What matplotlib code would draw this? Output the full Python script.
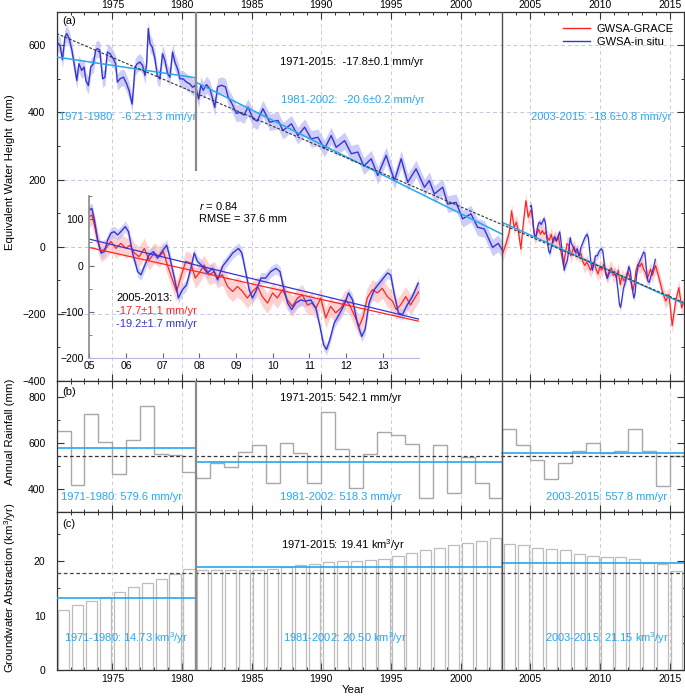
import numpy as np
import matplotlib.pyplot as plt
from matplotlib.ticker import MultipleLocator
from matplotlib.lines import Line2D

plt.rcParams['font.family'] = ['Liberation Sans', 'DejaVu Sans']
plt.rcParams['mathtext.fontset'] = 'custom'
plt.rcParams['mathtext.rm'] = 'Liberation Sans'
plt.rcParams['mathtext.it'] = 'Liberation Sans:italic'


# GWSA in situ 1971-2003 (mm)
insitu_year = [1971.00, 1971.25, 1971.42, 1971.60, 1971.73, 1971.90, 1972.10, 1972.25, 1972.45, 1972.60,
               1972.80, 1972.97, 1973.10, 1973.28, 1973.45, 1973.64, 1973.80, 1973.93, 1974.10, 1974.30,
               1974.47, 1974.64, 1974.83, 1975.07, 1975.24, 1975.36, 1975.55, 1975.80, 1976.03, 1976.20,
               1976.42, 1976.50, 1976.63, 1976.79, 1976.98, 1977.17, 1977.34, 1977.46, 1977.58, 1977.70,
               1977.86, 1978.06, 1978.22, 1978.41, 1978.60, 1978.77, 1978.97, 1979.13, 1979.32, 1979.49,
               1979.72, 1979.85, 1980.08, 1980.33, 1980.56, 1980.76, 1980.92, 1981.04, 1981.20, 1981.35,
               1981.52, 1981.76, 1982.00, 1982.20, 1982.35, 1982.55, 1982.83, 1983.12, 1983.31, 1983.60,
               1983.90, 1984.15, 1984.45, 1984.74, 1985.10, 1985.40, 1985.81, 1986.29, 1986.89, 1987.25,
               1987.85, 1988.32, 1988.80, 1989.28, 1989.75, 1990.23, 1990.71, 1991.07, 1991.67, 1992.15,
               1992.62, 1993.05, 1993.58, 1994.05, 1994.65, 1995.25, 1995.73, 1996.20, 1996.80, 1997.40,
               1997.75, 1998.11, 1998.71, 1999.07, 1999.67, 2000.14, 2000.74, 2001.21, 2001.69, 2002.29,
               2002.70, 2002.98]
insitu_gwsa = [610, 600, 557, 625, 635, 620, 585, 546, 495, 545,
               525, 535, 495, 480, 535, 545, 585, 590, 585, 500,
               505, 580, 575, 560, 545, 490, 500, 505, 485, 465,
               425, 465, 535, 545, 550, 540, 510, 545, 650, 605,
               595, 560, 510, 500, 575, 555, 515, 505, 580, 550,
               525, 500, 500, 490, 485, 475, 480, 465, 440, 482,
               466, 483, 470, 440, 415, 476, 481, 476, 446, 425,
               397, 400, 392, 416, 381, 374, 411, 371, 376, 346,
               366, 331, 356, 321, 326, 292, 331, 296, 316, 277,
               282, 240, 262, 212, 272, 197, 262, 192, 232, 177,
               197, 157, 177, 127, 132, 83, 98, 58, 53, -2,
               10, -10]
insitu_err = 25

# GWSA in situ 2005-2013 (mm)
insitu2_year = [2005.00, 2005.07, 2005.14, 2005.23, 2005.32, 2005.41, 2005.50, 2005.59, 2005.68, 2005.77,
                2005.86, 2005.98, 2006.07, 2006.18, 2006.32, 2006.41, 2006.50, 2006.63, 2006.75, 2006.86,
                2006.98, 2007.11, 2007.18, 2007.32, 2007.43, 2007.54, 2007.65, 2007.77, 2007.86, 2007.95,
                2008.09, 2008.22, 2008.36, 2008.50, 2008.63, 2008.77, 2008.91, 2009.07, 2009.16, 2009.27,
                2009.36, 2009.45, 2009.54, 2009.68, 2009.81, 2009.95, 2010.09, 2010.20, 2010.29, 2010.41,
                2010.52, 2010.63, 2010.77, 2010.90, 2011.04, 2011.18, 2011.29, 2011.39, 2011.47, 2011.56,
                2011.68, 2011.81, 2011.95, 2012.07, 2012.18, 2012.31, 2012.43, 2012.52, 2012.63, 2012.77,
                2012.95, 2013.13, 2013.22, 2013.31, 2013.43, 2013.54, 2013.67, 2013.81, 2013.97]
insitu2_gwsa = [120, 123, 98, 55, 27, 30, 55, 70, 73, 66,
                73, 84, 73, 27, -13, -20, -2, 23, 30, 16,
                30, 44, 23, -27, -70, -52, -42, -6, 27, 9,
                -2, -16, -6, -31, -2, 12, 27, 37, 27, -16,
                -52, -70, -56, -27, -27, -13, -6, -13, -45, -81,
                -95, -81, -74, -77, -74, -92, -131, -171, -181, -160,
                -124, -106, -85, -59, -74, -124, -153, -138, -81, -52,
                -34, -16, -20, -59, -102, -106, -85, -67, -38]
insitu2_err = 12

# GWSA GRACE 2003-2015 (mm)
grace_year = [2003.00, 2003.25, 2003.49, 2003.65, 2003.84, 2004.00, 2004.15, 2004.32, 2004.49, 2004.68,
              2004.85, 2005.00, 2005.07, 2005.14, 2005.23, 2005.32, 2005.45, 2005.59, 2005.73, 2005.86,
              2006.00, 2006.11, 2006.23, 2006.36, 2006.50, 2006.63, 2006.77, 2006.91, 2007.02, 2007.13,
              2007.27, 2007.38, 2007.50, 2007.63, 2007.77, 2007.89, 2008.00, 2008.13, 2008.27, 2008.41,
              2008.50, 2008.63, 2008.77, 2008.91, 2009.04, 2009.18, 2009.31, 2009.45, 2009.59, 2009.72,
              2009.86, 2010.00, 2010.13, 2010.27, 2010.40, 2010.54, 2010.68, 2010.81, 2010.95, 2011.07,
              2011.18, 2011.31, 2011.45, 2011.58, 2011.72, 2011.86, 2011.98, 2012.10, 2012.22, 2012.36,
              2012.47, 2012.58, 2012.72, 2012.86, 2012.99, 2013.13, 2013.27, 2013.37, 2013.49, 2013.63,
              2013.76, 2013.90, 2013.99, 2014.23, 2014.47, 2014.71, 2014.95, 2015.18, 2015.43, 2015.66,
              2015.86, 2015.95]
grace_gwsa = [-22, 8, 43, 107, 58, 73, 43, -7, 68, 137,
              88, 105, 109, 87, 52, 30, 37, 52, 37, 48,
              37, 44, 27, 19, 37, 12, 27, 19, 30, 1,
              -31, -56, -24, 9, 5, -27, -16, 1, -20, -13,
              -27, -20, -45, -56, -45, -56, -70, -56, -45, -67,
              -81, -59, -70, -52, -74, -88, -70, -63, -85, -81,
              -92, -70, -113, -88, -102, -92, -74, -85, -106, -131,
              -110, -70, -52, -59, -49, -67, -77, -95, -85, -67,
              -85, -67, -56, -92, -132, -162, -142, -235, -162, -122,
              -182, -172]
grace_err = 22

# linear trends (start year, end year, value at start, slope mm/yr)
trend_start = [1971, 1981, 2003]
trend_end = [1981, 2003, 2016]
trend_value0 = [565, 490, 72]
trend_slope = [-6.2, -20.6, -18.6]
trend_labels = ['1971-1980:  -6.2\u00b11.3 mm/yr', '1981-2002:  -20.6\u00b10.2 mm/yr', '2003-2015: -18.6\u00b10.8 mm/yr']
all_value0, all_slope = 635, -17.8

inset_trend_value0 = {'grace': 39, 'insitu': 57}
inset_trend_slope = {'grace': -17.7, 'insitu': -19.2}

# annual rainfall (mm) and groundwater abstraction (km3/yr), 1971-2015
years = np.arange(1971, 2016)
rainfall = [650, 420, 723, 602, 465, 613, 758, 550, 548, 472,
            450, 511, 496, 560, 591, 425, 599, 554, 425, 734,
            575, 403, 550, 646, 632, 593, 361, 589, 384, 537,
            425, 360, 660, 589, 528, 443, 514, 565, 599, 557,
            563, 660, 564, 414, 542]
abstraction = [11.1, 11.9, 12.7, 13.5, 14.4, 15.2, 16.0, 16.8, 17.6, 18.5,
               18.35, 18.35, 18.35, 18.4, 18.3, 18.65, 18.9, 19.3, 19.55, 19.8,
               20.0, 20.06, 20.3, 20.5, 20.9, 21.5, 22.0, 22.5, 22.9, 23.4,
               23.8, 24.2, 23.25, 23.05, 22.5, 22.2, 22.1, 21.35, 20.9, 20.85,
               20.7, 20.4, 19.75, 19.45, 18.2]
rain_means = [579.6, 518.3, 557.8]
rain_all = 542.1
abs_lines = [13.2, 18.95, 19.6]
abs_all_line = 17.85
rain_labels = ['1971-1980: 579.6 mm/yr', '1981-2002: 518.3 mm/yr', '2003-2015: 557.8 mm/yr']
abs_labels = ['1971-1980: 14.73 km$^3$/yr', '1981-2002: 20.50 km$^3$/yr', '2003-2015: 21.15 km$^3$/yr']

BLUE = '#3535d6'
BLUE_FILL = '#b9b9f4'
RED = '#ff2424'
RED_FILL = '#ffb4b4'
CYAN = '#27a6ef'
SEP1 = '#8a8a8a'
SEP2 = '#505050'
FS = 8
TFS = 7.5
LFS = 8.2

fig = plt.figure(figsize=(6.85, 6.99), dpi=100)
W, H = 685.0, 699.0
x0, x1 = 56.6, 683.6


def box(top, bottom):
    return [x0 / W, 1 - bottom / H, (x1 - x0) / W, (bottom - top) / H]


ax_a = fig.add_axes(box(11.7, 381))
ax_b = fig.add_axes(box(381, 512.3))
ax_c = fig.add_axes(box(512.3, 670))

for ax in (ax_a, ax_b, ax_c):
    ax.set_xlim(1971, 2016)
    ax.xaxis.set_major_locator(MultipleLocator(5))
    ax.xaxis.set_minor_locator(MultipleLocator(1))
    ax.tick_params(which='both', direction='in', top=True, bottom=True, left=True, right=True,
                   labelsize=TFS, color='#333333')
    ax.tick_params(which='major', length=5, width=0.8)
    ax.tick_params(which='minor', length=2.5, width=0.7)
    ax.tick_params(axis='y', pad=8)
    ax.grid(axis='x', which='major', linestyle=(0, (4, 3)), color='#cfcfcf', lw=0.7)
    ax.set_axisbelow(True)
    for s in ax.spines.values():
        s.set_color('#333333')
        s.set_linewidth(0.9)
    ax.axvline(2003, color=SEP2, lw=1.0, zorder=6)

# ---- panel (a)
ax_a.set_ylim(-400, 700)
ax_a.yaxis.set_major_locator(MultipleLocator(200))
ax_a.yaxis.set_minor_locator(MultipleLocator(100))
ax_a.tick_params(axis='x', labeltop=True, labelbottom=False, pad=1.5)
ax_a.grid(axis='y', which='major', linestyle=(0, (4, 3)), color='#c6c6e2', lw=0.7)

iy = np.array(insitu_gwsa)
ax_a.fill_between(insitu_year, iy - insitu_err, iy + insitu_err, color=BLUE_FILL, alpha=0.7, lw=0)
ax_a.plot(insitu_year, iy, color=BLUE, lw=1.0)
gy = np.array(grace_gwsa)
ax_a.fill_between(grace_year, gy - grace_err, gy + grace_err, color=RED_FILL, alpha=0.6, lw=0)
ax_a.plot(grace_year, gy, color=RED, lw=0.9)
i2 = np.array(insitu2_gwsa)
ax_a.fill_between(insitu2_year, i2 - insitu2_err, i2 + insitu2_err, color=BLUE_FILL, alpha=0.6, lw=0)
ax_a.plot(insitu2_year, i2, color=BLUE, lw=0.9)

ax_a.plot([1971, 2016], [all_value0, all_value0 + all_slope * 45], color='#333333', lw=0.8,
          linestyle=(0, (2.5, 1.5)), zorder=5)
for s, e, v0, k in zip(trend_start, trend_end, trend_value0, trend_slope):
    ax_a.plot([s, e], [v0, v0 + k * (e - s)], color=CYAN, lw=1.1, zorder=4)
ax_a.vlines(1981, 225, 700, color=SEP1, lw=1.6, zorder=6)

ax_a.text(1971.4, 672, '(a)', fontsize=FS, va='center')
ax_a.text(1987.03, 549, '1971-2015:  -17.8\u00b10.1 mm/yr', fontsize=FS, va='center', color='black')
ax_a.text(1987.1, 436, trend_labels[1], fontsize=FS, va='center', color=CYAN)
ax_a.text(1971.17, 385, trend_labels[0], fontsize=FS, va='center', color=CYAN)
ax_a.text(2005.04, 385, trend_labels[2], fontsize=FS, va='center', color=CYAN)

handles = [Line2D([], [], color=RED, lw=1), Line2D([], [], color=BLUE, lw=1)]
ax_a.legend(handles, ['GWSA-GRACE', 'GWSA-in situ'], loc='upper right', bbox_to_anchor=(0.995, 0.985),
            frameon=False, fontsize=FS, handlelength=2.4, handletextpad=0.6, labelspacing=0.3,
            borderaxespad=0.2)

# ---- inset
ax_in = fig.add_axes([89.3 / W, 1 - 358.3 / H, 330 / W, 162.3 / H])
ax_in.patch.set_alpha(0)
ax_in.set_xlim(2005, 2014)
ax_in.set_ylim(-200, 150)
ax_in.fill_between(grace_year, gy - grace_err, gy + grace_err, color=RED_FILL, alpha=0.6, lw=0)
ax_in.plot(grace_year, gy, color=RED, lw=0.9)
ax_in.fill_between(insitu2_year, i2 - insitu2_err, i2 + insitu2_err, color=BLUE_FILL, alpha=0.6, lw=0)
ax_in.plot(insitu2_year, i2, color=BLUE, lw=1.0)
for key, col in (('grace', RED), ('insitu', BLUE)):
    v0, k = inset_trend_value0[key], inset_trend_slope[key]
    ax_in.plot([2005, 2014], [v0, v0 + k * 9], color=col, lw=0.9)
ax_in.spines['top'].set_visible(False)
ax_in.spines['right'].set_visible(False)
ax_in.spines['left'].set_color('#8a8a8a')
ax_in.spines['left'].set_linewidth(1.2)
ax_in.spines['bottom'].set_color('#b8b8e6')
ax_in.set_xticks(np.arange(2005, 2014))
ax_in.set_xticklabels(['%02d' % (y % 100) for y in range(2005, 2014)])
ax_in.yaxis.set_major_locator(MultipleLocator(100))
ax_in.yaxis.set_minor_locator(MultipleLocator(50))
ax_in.tick_params(which='both', direction='in', labelsize=TFS, color='#666666')
ax_in.tick_params(axis='x', pad=2)
ax_in.tick_params(axis='y', pad=4)
ax_in.tick_params(which='minor', length=2)
ax_in.text(2008.0, 128, '$r$ = 0.84', fontsize=FS, va='center')
ax_in.text(2008.0, 100, 'RMSE = 37.6 mm', fontsize=FS, va='center')
ax_in.text(2005.73, -69, '2005-2013:', fontsize=FS, va='center')
ax_in.text(2005.73, -97, '-17.7\u00b11.1 mm/yr', fontsize=FS, va='center', color=RED)
ax_in.text(2005.73, -125, '-19.2\u00b11.7 mm/yr', fontsize=FS, va='center', color=BLUE)

# ---- panel (b)
ax_b.set_ylim(300, 867)
ax_b.yaxis.set_major_locator(MultipleLocator(200))
ax_b.yaxis.set_minor_locator(MultipleLocator(100))
ax_b.tick_params(axis='x', labelbottom=False)
ax_b.stairs(rainfall, np.arange(1971, 2017), baseline=None, color='#a8a8a8', lw=1.0)
ax_b.axhline(rain_all, color='#333333', lw=0.9, linestyle=(0, (3, 2)))
for s, e, m in zip(trend_start, trend_end, rain_means):
    ax_b.plot([s, e], [m, m], color=CYAN, lw=1.2)
ax_b.axvline(1981, color=SEP1, lw=1.6, zorder=6)
ax_b.text(1971.4, 819, '(b)', fontsize=FS, va='center')
ax_b.text(1987.03, 793, '1971-2015: 542.1 mm/yr', fontsize=FS, va='center')
for xt, lab in zip([1971.3, 1987.03, 2006.1], rain_labels):
    ax_b.text(xt, 365, lab, fontsize=FS, va='center', color=CYAN)

# ---- panel (c)
ax_c.set_ylim(0, 29)
ax_c.yaxis.set_major_locator(MultipleLocator(10))
ax_c.yaxis.set_minor_locator(MultipleLocator(5))
ax_c.tick_params(axis='x', pad=3)
ax_c.bar(years + 0.5, abstraction, width=0.8, facecolor='white', edgecolor='#bdbdbd', lw=0.9, zorder=2)
ax_c.axhline(abs_all_line, color='#444444', lw=0.9, linestyle=(0, (3, 2)), zorder=3)
for s, e, m in zip(trend_start, trend_end, abs_lines):
    ax_c.plot([s, e], [m, m], color=CYAN, lw=1.2, zorder=4)
ax_c.axvline(1981, color=SEP1, lw=1.6, zorder=6)
ax_c.text(1971.4, 26.8, '(c)', fontsize=FS, va='center')
ax_c.text(1987.1, 22.9, '1971-2015: 19.41 km$^3$/yr', fontsize=FS, va='center', zorder=7)
for xt, lab in zip([1971.53, 1987.25, 2006.05], abs_labels):
    ax_c.text(xt, 5.9, lab, fontsize=FS, va='center', color=CYAN, zorder=7)

# axis titles
fig.text(10 / W, 1 - 172 / H, 'Equivalent Water Height  (mm)', rotation=90, ha='center', va='center', fontsize=LFS)
fig.text(10 / W, 1 - 432 / H, 'Annual Rainfall (mm)', rotation=90, ha='center', va='center', fontsize=LFS)
fig.text(10 / W, 1 - 588 / H, 'Groundwater Abstraction (km$^3$/yr)', rotation=90, ha='center', va='center',
         fontsize=LFS)
fig.text(353 / W, 1 - 690 / H, 'Year', ha='center', va='center', fontsize=LFS)

fig.savefig('out.png', dpi=100)
